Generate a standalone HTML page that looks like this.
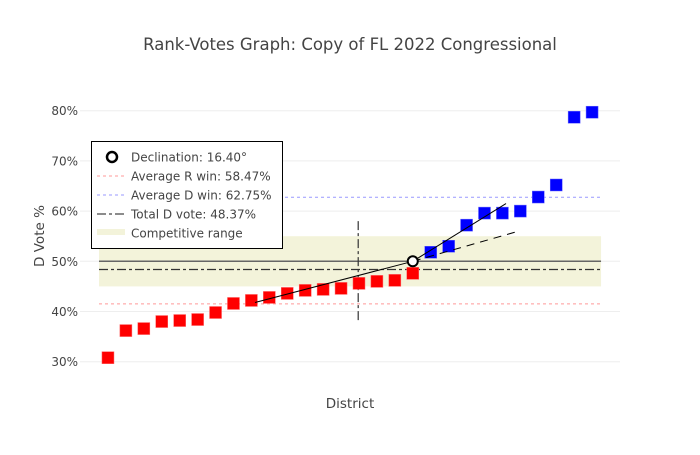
<!DOCTYPE html>
<html><head><meta charset="utf-8"><style>
body{margin:0;background:#fff;}
svg text{font-family:"DejaVu Sans","Liberation Sans",sans-serif;fill:#444;}
</style></head><body>
<svg id="chart" width="700" height="450" xmlns="http://www.w3.org/2000/svg">
<rect width="700" height="450" fill="#fff"/>
<text x="350" y="50" font-size="16.5" text-anchor="middle">Rank-Votes Graph: Copy of FL 2022 Congressional</text>
<text x="350" y="408" font-size="13.5" text-anchor="middle">District</text>
<text x="44" y="236" font-size="13.5" text-anchor="middle" transform="rotate(-90 44 236)">D Vote %</text>
<g id="grid"></g><g id="marks"></g><g id="pts"></g>
<g>
<rect x="91.5" y="141.5" width="191" height="107" fill="#fff" stroke="#000" stroke-width="1"/>
<circle cx="112" cy="157" r="5" fill="#fff" stroke="#000" stroke-width="2.5"/>
<text x="131" y="161.5" font-size="12">Declination: 16.40°</text>
<line x1="97" y1="176" x2="125" y2="176" stroke="#f99" stroke-dasharray="3,3"/>
<text x="131" y="180.5" font-size="12">Average R win: 58.47%</text>
<line x1="97" y1="195" x2="125" y2="195" stroke="#99f" stroke-dasharray="3,3"/>
<text x="131" y="199.5" font-size="12">Average D win: 62.75%</text>
<line x1="97" y1="214" x2="125" y2="214" stroke="#666" stroke-width="1.5" stroke-dasharray="9,3,3,3"/>
<text x="131" y="218.5" font-size="12">Total D vote: 48.37%</text>
<rect x="97" y="229" width="28" height="6" fill="#f3f3da"/>
<text x="131" y="237.5" font-size="12">Competitive range</text>
</g>
</svg>
<script>
const yTicks=[30,40,50,60,70,80];
const votes=[30.8,36.2,36.6,38.0,38.2,38.4,39.8,41.6,42.2,42.8,43.6,44.2,44.4,44.6,45.6,46.0,46.2,47.6,51.8,53.0,57.2,59.6,59.6,60.0,62.8,65.2,78.7,79.7];
const avgRWin=58.47, avgDWin=62.75, totalD=48.37;
const competitive=[45,55];
const decPoint=[18,50];
const rFitStart=[9.2,41.8], dFitEnd=[23.2,61.5], extEnd=[23.9,56];
const NS='http://www.w3.org/2000/svg';
const X=i=>99+(i-0.5)*17.93, Y=v=>361.7-(v-30)*5.02;
function mk(tag,attrs,parent){const e=document.createElementNS(NS,tag);for(const k in attrs)e.setAttribute(k,attrs[k]);parent.appendChild(e);return e;}
const grid=document.getElementById('grid'),marks=document.getElementById('marks'),pts=document.getElementById('pts');
yTicks.forEach(t=>{
 const l=mk('line',{x1:80,x2:620,y1:Y(t),y2:Y(t),stroke:'#eee','stroke-width':1},grid);
 
 
 const tx=mk('text',{x:78,y:Y(t)+4.5,'font-size':12,'text-anchor':'end'},grid);tx.textContent=t+'%';
 
 
});
const band=mk('rect',{x:X(0.5),y:Y(competitive[1]),width:X(28.5)-X(0.5),height:Y(competitive[0])-Y(competitive[1]),fill:'#f3f3da'},marks);


const rl=mk('line',{x1:X(0.5),x2:X(28.5),y1:Y(100-avgRWin),y2:Y(100-avgRWin),stroke:'#f99','stroke-dasharray':'3,3'},marks);


const dl=mk('line',{x1:X(0.5),x2:X(28.5),y1:Y(avgDWin),y2:Y(avgDWin),stroke:'#99f','stroke-dasharray':'3,3'},marks);


const fl=mk('line',{x1:X(0.5),x2:X(28.5),y1:Y(50),y2:Y(50),stroke:'#666','stroke-width':1.5},marks);


const tl=mk('line',{x1:X(0.5),x2:X(28.5),y1:Y(totalD),y2:Y(totalD),stroke:'#333','stroke-width':1.2,'stroke-dasharray':'9,3,3,3'},marks);


const vx=X(0.5+28*(1-totalD/100));
const vl=mk('line',{x1:vx,x2:vx,y1:Y(58),y2:Y(38),stroke:'#333','stroke-width':1.2,'stroke-dasharray':'9,3,3,3'},marks);


votes.forEach((v,i)=>{
 const r=mk('rect',{x:X(i+1)-6,y:Y(v)-6,width:12,height:12,fill:v<50?'#f00':'#00f',stroke:v<50?'#f66':'#66f','stroke-width':0.5},pts);
 
 
});
const l1=mk('line',{x1:X(rFitStart[0]),y1:Y(rFitStart[1]),x2:X(decPoint[0]),y2:Y(decPoint[1]),stroke:'#000','stroke-width':1},pts);


const l2=mk('line',{x1:X(decPoint[0]),y1:Y(decPoint[1]),x2:X(dFitEnd[0]),y2:Y(dFitEnd[1]),stroke:'#000','stroke-width':1},pts);


const l3=mk('line',{x1:X(decPoint[0]),y1:Y(decPoint[1]),x2:X(extEnd[0]),y2:Y(extEnd[1]),stroke:'#000','stroke-width':1,'stroke-dasharray':'8,6'},pts);


const c=mk('circle',{cx:X(decPoint[0]),cy:Y(decPoint[1]),r:5,fill:'#fff',stroke:'#000','stroke-width':2},pts);


</script>
</body></html>
